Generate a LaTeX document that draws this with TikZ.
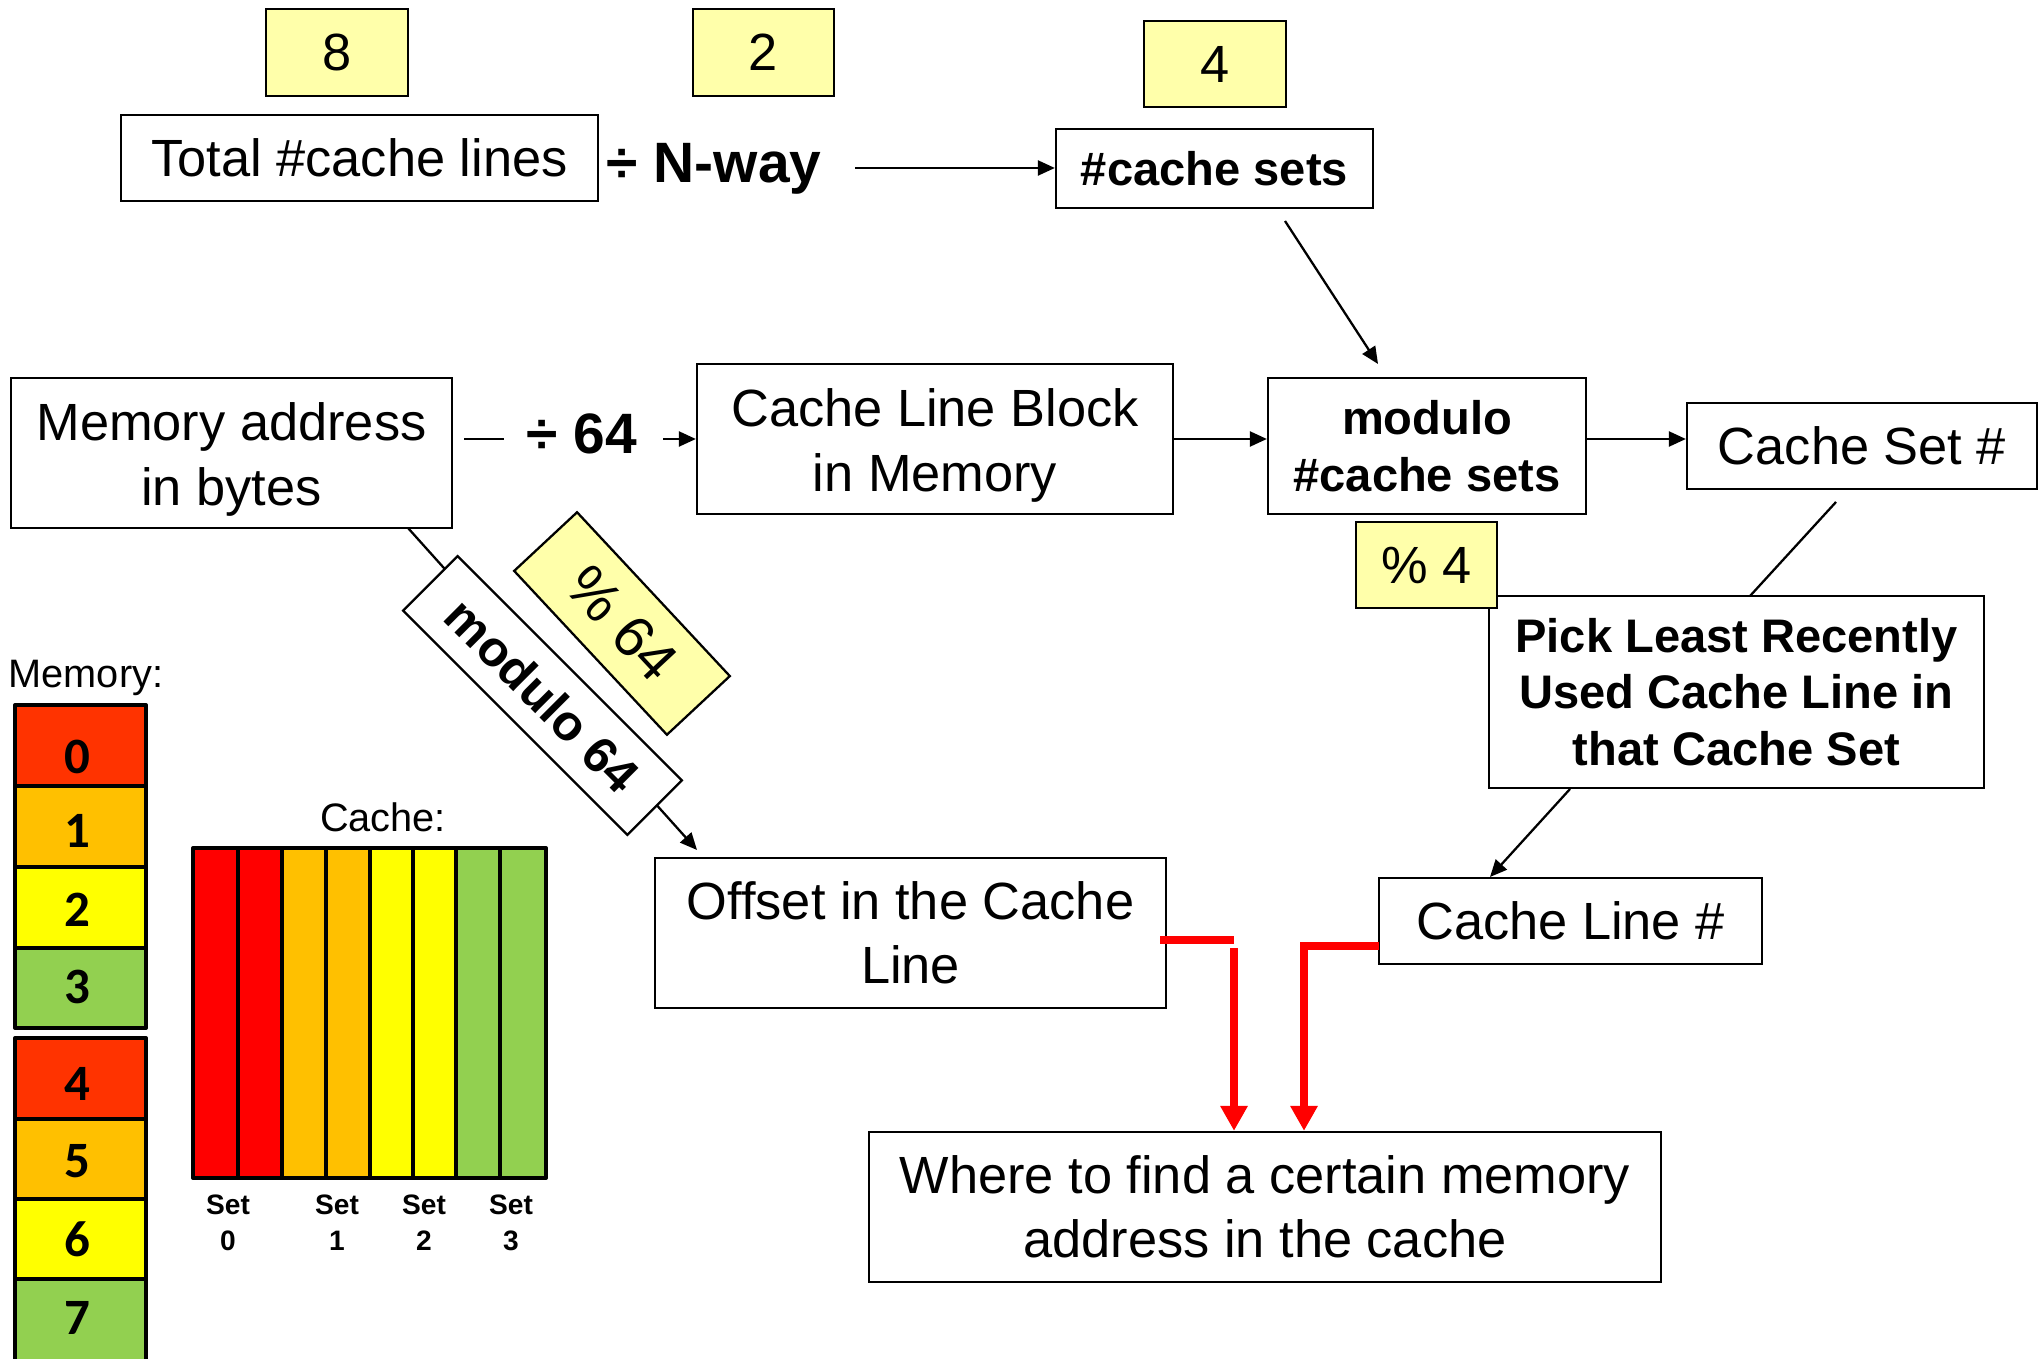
\documentclass[tikz,border=0pt]{standalone}
\usepackage{fontspec}
\setmainfont{Liberation Sans}
\newfontfamily\calib{Carlito}
\usetikzlibrary{arrows.meta,calc}
\definecolor{noteY}{HTML}{FFFFAA}
\definecolor{memR}{HTML}{FF3300}
\definecolor{cOr}{HTML}{FFC000}
\definecolor{cYe}{HTML}{FFFF00}
\definecolor{cGr}{HTML}{92D050}
\definecolor{cRd}{HTML}{FF0000}
\newcommand\mybox[7][]{\node[box,#1,minimum width={(#5-#3)*0.1mm},minimum height={(#6-#4)*0.1mm}] (#2) at ({(#3+#5)/2},{(#4+#6)/2}) {#7};}
\newcommand\topstrut{\rule{0pt}{14.4pt}}
\begin{document}
\begin{tikzpicture}[x=0.1mm,y=-0.1mm,
  box/.style={draw=black,line width=0.65pt,fill=white,inner sep=0pt,align=center,font=\fontsize{14.9}{18.3}\selectfont},
  boldbox/.style={font=\fontsize{13.4}{16.1}\selectfont\bfseries},
  note/.style={fill=noteY},
  arr/.style={line width=0.65pt,-{Triangle[length=1.7mm,width=1.5mm]}},
  plain/.style={line width=0.65pt},
  redline/.style={cRd,line width=2.3pt},
  redarr/.style={cRd,line width=2.3pt,line join=miter,-{Triangle[length=2.5mm,width=2.6mm]}},
  opfont/.style={font=\fontsize{16.2}{19}\selectfont\bfseries,inner sep=0pt},
  lbl/.style={font=\fontsize{11.3}{13.5}\selectfont,inner sep=0pt},
  setlbl/.style={font=\fontsize{8}{10}\selectfont\bfseries,align=center,inner sep=0pt},
  memdig/.style={font=\calib\bfseries\fontsize{14.5}{17}\selectfont,inner sep=0pt},
  thick border/.style={line width=1.15pt,line join=round}
]
\useasboundingbox (0,0) rectangle (2039,1359);

% ---- top row ----
\mybox[note]{n8}{266}{9}{408}{96}{8}
\mybox[note]{n2}{693}{9}{834}{96}{2}
\mybox[note]{n4}{1144}{21}{1286}{107}{4}
\mybox{total}{121}{115}{598}{201}{Total \#cache lines}
\node[opfont,anchor=base west] (nway) at (606,183) {÷ N-way};
\mybox[boldbox]{sets}{1056}{129}{1373}{208}{\#cache sets}
\coordinate (a1) at (855,168);
\draw[arr] (a1) -- (a1 -| sets.west);

% ---- middle row ----
\mybox{mem}{11}{378}{452}{528}{\topstrut Memory address\\in bytes}
\mybox{clb}{697}{364}{1173}{514}{\topstrut Cache Line Block\\in Memory}
\mybox[boldbox]{mod}{1268}{378}{1586}{514}{modulo\\\#cache sets}
\mybox{cset}{1687}{403}{2037}{489}{Cache Set \#}
\node[opfont,anchor=base] (d64) at (582,454) {÷ 64};
\coordinate (d1) at (464,439);
\coordinate (d2) at (504,439);
\coordinate (d3) at (663,439);
\draw[plain] (d1) -- (d2);
\draw[arr] (d3) -- (clb.west);
\draw[arr] (clb.east) -- (clb.east -| mod.west);
\draw[arr] (clb.east -| mod.east) -- (clb.east -| cset.west);
\coordinate (s1) at (1285,221);
\coordinate (s2) at (1378,364);
\draw[arr] (s1) -- (s2);

% ---- right column ----
\mybox[boldbox]{pick}{1489}{596}{1984}{788}{Pick Least Recently\\Used Cache Line in\\that Cache Set}
\mybox[note]{p4}{1356}{522}{1497}{608}{\% 4}
\mybox{cline}{1379}{878}{1762}{964}{Cache Line \#}
\coordinate (c1) at (1836,502);
\coordinate (c2) at (1750,596);
\draw[plain] (c1) -- (c2);
\coordinate (k1) at (1570,789);
\coordinate (k2) at (1490,877);
\draw[arr] (k1) -- (k2);

% ---- offset branch ----
\mybox{off}{655}{858}{1166}{1008}{Offset in the Cache\\Line}
\coordinate (o1) at (408,528);
\coordinate (o2) at (697,850);
\draw[arr] (o1) -- (o2);
\node[draw,fill=white,line width=0.65pt,rotate=-45,minimum width=31.7mm,minimum height=7.7mm,inner sep=0pt,font=\fontsize{14.2}{17}\selectfont\bfseries] (m64) at (542.5,695.5) {modulo 64};
\node[draw,fill=noteY,line width=0.65pt,rotate=-47,minimum width=22.4mm,minimum height=8.6mm,inner sep=0pt,font=\fontsize{16.5}{19}\selectfont] (p64) at (622,623.5) {\% 64};

% ---- result ----
\mybox{where}{869}{1132}{1661}{1282}{Where to find a certain memory\\address in the cache}
\coordinate (r1) at (1160,940);
\coordinate (r2) at (1234,940);
\coordinate (r3) at (1234,948);
\draw[redline] (r1) -- (r2);
\draw[redarr] (r3) -- (r3 |- where.north);
\coordinate (r4) at (1379,946);
\coordinate (r5) at (1304,946);
\draw[redarr] (r4) -- (r5) -- (r5 |- where.north);

% ---- memory column ----
\node[lbl,anchor=base west] (memlbl) at (8,688) {Memory:};
\fill[memR] (15,705) rectangle (146,786);
\fill[cOr] (15,786) rectangle (146,867);
\fill[cYe] (15,867) rectangle (146,948);
\fill[cGr] (15,948) rectangle (146,1028);
\draw[thick border] (15,705) rectangle (146,1028);
\draw[thick border] (15,786) -- (146,786) (15,867) -- (146,867) (15,948) -- (146,948);
\fill[memR] (15,1038) rectangle (146,1119);
\fill[cOr] (15,1119) rectangle (146,1199);
\fill[cYe] (15,1199) rectangle (146,1279);
\fill[cGr] (15,1279) rectangle (146,1380);
\draw[thick border] (15,1038) rectangle (146,1380);
\draw[thick border] (15,1119) -- (146,1119) (15,1199) -- (146,1199) (15,1279) -- (146,1279);
\node[memdig] (m0) at (77,757) {0};
\node[memdig] (m1) at (77,831) {1};
\node[memdig] (m2) at (77,910) {2};
\node[memdig] (m3) at (77,987) {3};
\node[memdig] (m4) at (77,1084) {4};
\node[memdig] (m5) at (77,1161) {5};
\node[memdig] (m6) at (77,1239) {6};
\node[memdig] (m7) at (77,1318) {7};

% ---- cache ----
\node[lbl,anchor=base] (cachelbl) at (383,831) {Cache:};
\fill[cRd] (193,848) rectangle (282,1178);
\fill[cOr] (282,848) rectangle (370,1178);
\fill[cYe] (370,848) rectangle (456,1178);
\fill[cGr] (456,848) rectangle (546,1178);
\draw[thick border] (193,848) rectangle (546,1178);
\foreach \xx in {238,282,326,370,413,456,500}
  \draw[thick border] (\xx,848) -- (\xx,1178);
\node[setlbl,anchor=base] (set0) at (228,1250) {Set\\0};
\node[setlbl,anchor=base] (set1) at (337,1250) {Set\\1};
\node[setlbl,anchor=base] (set2) at (424,1250) {Set\\2};
\node[setlbl,anchor=base] (set3) at (511,1250) {Set\\3};
\end{tikzpicture}
\end{document}
